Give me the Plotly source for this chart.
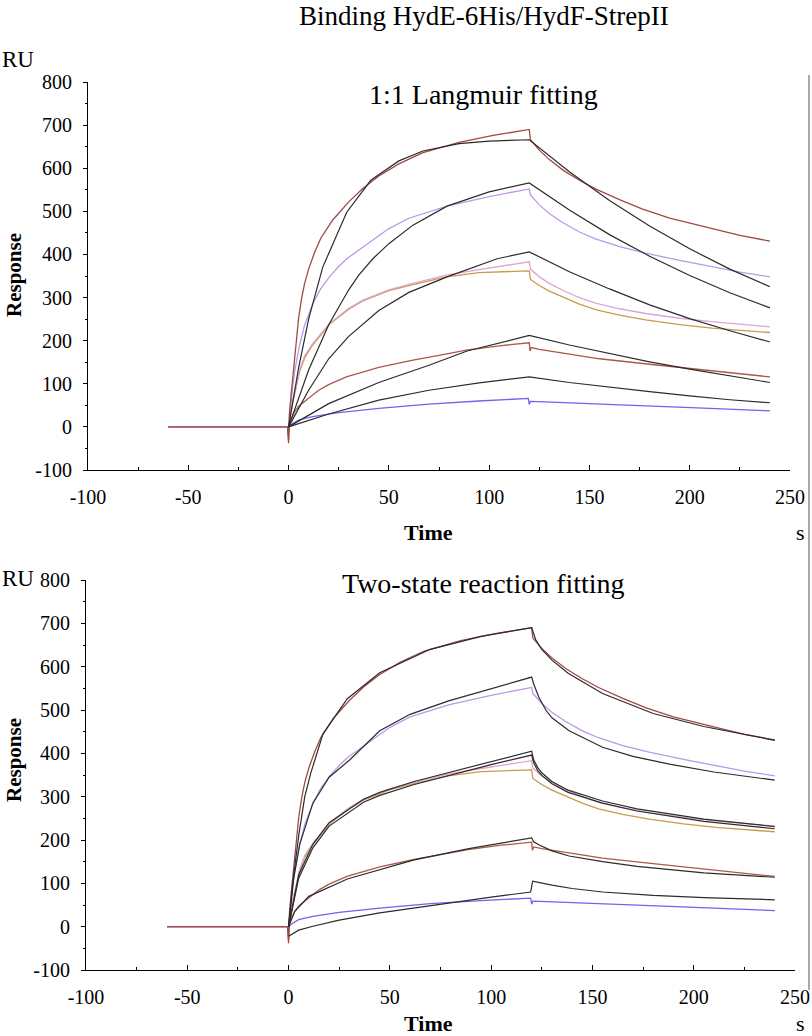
import plotly.graph_objects as go

m1_t = [-60, -0.5, 0, 0.4, 1.3, 2.5, 3.8, 5, 6.5, 8, 10, 13, 16, 22, 30, 37, 45, 55, 67, 85, 102, 120,
        120.6, 125, 130, 137, 145, 153, 165, 176.5, 190, 211, 225, 240]
m1_v = [0, 0, -38, 30, 77, 140, 200, 252, 298, 333, 366, 405, 437, 480, 522, 553, 582, 610, 636, 660, 676, 690,
        666, 642, 620, 595, 572, 552, 527, 505, 484, 459, 444, 431]

m2_t = [-60, 0, 1.5, 3, 5.5, 8, 12, 16, 20.4, 25, 29, 35, 40, 45, 50, 60, 79, 100, 120,
        120.6, 125, 130, 136.6, 145, 153, 165, 178, 195, 211, 225, 240]
m2_v = [0, 0, 70, 128, 190, 236, 285, 320, 348, 372, 390, 410, 428, 445, 460, 484, 512, 534, 552,
        538, 515, 495, 474, 452, 436, 418, 403, 386, 371, 359, 348]

m3_t = [-60, 0, 2, 5.5, 8, 12, 20.4, 30, 37, 50, 62, 78.6, 95, 110, 120,
        120.6, 125, 130, 136.6, 145, 153, 165, 178, 195, 211, 240]
m3_v = [0, 0, 60, 132, 165, 193, 240, 275, 294, 318, 333, 352, 365, 376, 383,
        366, 348, 333, 317, 300, 287, 274, 263, 252, 244, 232]

m4_t = [-60, 0, 2, 5.5, 8, 12, 20.4, 30, 37, 50, 62, 78.6, 95, 110, 120,
        120.6, 125, 130, 136.6, 145, 153, 165, 178, 195, 211, 240]
m4_v = [0, 0, 55, 128, 160, 190, 238, 273, 292, 316, 330, 348, 358, 361, 362,
        342, 328, 315, 302, 285, 272, 259, 248, 237, 229, 219]

m5_t = [-60, -0.5, 0, 0.4, 1, 3, 5, 8.8, 15, 20, 28.8, 45, 62, 75, 88.6, 105, 120,
        120.4, 121, 125, 138.2, 155, 176.5, 211, 240]
m5_v = [0, 0, -30, 5, 15, 35, 48, 62, 85, 98, 116, 138, 155, 166, 178, 188, 195,
        176, 184, 180, 170, 158, 147, 130, 116]

m6_t = [-60, 0, 2, 5, 12, 25, 45, 70, 95, 119.5,
        120, 120.6, 127.5, 150, 178, 210, 240]
m6_v = [0, 0, 8, 16, 24, 33, 43, 53, 60, 66,
        52, 59, 58, 54, 50, 43, 37]

# 1:1 Langmuir fits (top panel)
f1_t = [0, 5, 10, 17, 29, 41, 55, 67, 85, 100, 120, 140, 160, 180, 200, 220, 240]
f1_v = [0, 137, 250, 370, 498, 572, 617, 640, 657, 663, 666, 592, 525, 466, 413, 366, 325]
f2_t = [0, 10, 20, 30, 35, 42, 50, 62, 79, 100, 120, 140, 160, 180, 200, 220, 240]
f2_v = [0, 132, 237, 318, 352, 390, 425, 468, 512, 545, 566, 503, 446, 396, 351, 311, 276]
f3_t = [0, 10, 20, 30, 45, 60, 79, 95, 104, 120, 140, 160, 180, 200, 220, 240]
f3_v = [0, 85, 158, 210, 270, 312, 348, 376, 390, 406, 360, 320, 283, 251, 223, 197]
f4_t = [0, 10, 20, 45, 70, 89, 105, 120, 140, 160, 180, 200, 220, 240]
f4_v = [0, 28, 54, 103, 143, 176, 195, 212, 190, 170, 151, 134, 118, 103]
f5_t = [0, 20, 45, 70, 95, 120, 140, 160, 180, 200, 220, 240]
f5_v = [0, 30, 62, 85, 102, 116, 103, 92, 82, 72, 63, 56]

# two-state reaction fits (bottom panel)
g1_t = [0, 2, 5, 8, 11, 17, 29, 45, 70, 95, 120, 122, 125, 130, 138, 155, 180, 205, 240]
g1_v = [0, 100, 210, 300, 355, 445, 526, 586, 640, 670, 690, 662, 640, 615, 585, 538, 492, 462, 430]
g2_t = [0, 2.5, 5.5, 12, 20, 25, 30, 45, 60, 79, 100, 120, 121, 123.5, 127, 130, 138.5, 155, 170, 188, 210, 240]
g2_v = [0, 110, 190, 285, 345, 365, 384, 452, 490, 521, 550, 576, 560, 530, 500, 482, 452, 414, 393, 375, 357, 338]
g3_t = [0, 5, 12, 20, 37, 45, 62, 80, 100, 120, 121, 123, 125, 130, 138, 155, 172, 205, 240]
g3_v = [0, 120, 190, 240, 294, 310, 335, 357, 382, 405, 385, 367, 355, 335, 315, 290, 272, 248, 231]
g4_t = [0, 5, 12, 20, 37, 45, 62, 80, 100, 120, 121, 123, 125, 130, 138, 155, 172, 205, 240]
g4_v = [0, 112, 182, 232, 287, 303, 328, 350, 374, 396, 378, 360, 349, 330, 310, 285, 267, 243, 226]
g5_t = [0, 3, 10, 29, 62, 89, 120, 121, 123.5, 130, 138.5, 155, 172, 205, 240]
g5_v = [0, 35, 70, 110, 154, 180, 205, 196, 189, 175, 163, 150, 139, 124, 114]
g6_t = [0, 5, 12, 25, 45, 79, 100, 119.5, 120.5, 130, 140, 155, 180, 205, 240]
g6_v = [-22, -8, 1, 15, 32, 55, 68, 80, 105, 96, 88, 80, 72, 67, 62]

measured = [(m1_t, m1_v, "#9e4a44"), (m2_t, m2_v, "#bc98ea"), (m3_t, m3_v, "#dea4d2"),
            (m4_t, m4_v, "#c99a4c"), (m5_t, m5_v, "#a85a4c"), (m6_t, m6_v, "#7a5ef0")]
fits_top = [(f1_t, f1_v), (f2_t, f2_v), (f3_t, f3_v), (f4_t, f4_v), (f5_t, f5_v)]
fits_bot = [(g1_t, g1_v), (g2_t, g2_v), (g3_t, g3_v), (g4_t, g4_v), (g5_t, g5_v), (g6_t, g6_v)]

fig = go.Figure()
for xa, ya, fits in [("x", "y", fits_top), ("x2", "y2", fits_bot)]:
    # reversed so the dark brown run sits on top along the baseline
    for t, v, c in measured[::-1]:
        fig.add_trace(go.Scatter(x=t, y=v, mode="lines", line=dict(color=c, width=1.3),
                                 xaxis=xa, yaxis=ya, showlegend=False))
    for t, v in fits:
        fig.add_trace(go.Scatter(x=t, y=v, mode="lines", line=dict(color="#2b2b2b", width=1.2),
                                 xaxis=xa, yaxis=ya, showlegend=False))

serif = "Liberation Serif, Times New Roman, serif"
xticks = [-100, -50, 0, 50, 100, 150, 200, 250]
yticks = [-100, 0, 100, 200, 300, 400, 500, 600, 700, 800]
xcommon = dict(range=[-100, 250], tickvals=xticks, ticktext=[str(v) for v in xticks],
               showline=True, linecolor="black", linewidth=1, ticks="inside", ticklen=5,
               tickcolor="black", minor=dict(dtick=25, ticks="inside", ticklen=3, tickcolor="black"),
               showgrid=False, zeroline=False, automargin=False,
               tickfont=dict(family=serif, size=20, color="black"), ticklabelstandoff=9)
ycommon = dict(range=[-100, 800], tickvals=yticks, ticktext=[str(v) for v in yticks],
               showline=True, linecolor="black", linewidth=1, ticks="outside", ticklen=4,
               tickcolor="black", minor=dict(dtick=50, ticks="outside", ticklen=2, tickcolor="black"),
               showgrid=False, zeroline=False, automargin=False,
               tickfont=dict(family=serif, size=20, color="black"), ticklabelstandoff=7)

fig.update_layout(
    width=812, height=1036, margin=dict(l=0, r=0, t=0, b=0),
    plot_bgcolor="white", paper_bgcolor="white",
    xaxis=dict(domain=[88 / 812, 790 / 812], anchor="y", **xcommon),
    yaxis=dict(domain=[1 - 470 / 1036, 1 - 82 / 1036], anchor="x", **ycommon),
    xaxis2=dict(domain=[86 / 812, 795 / 812], anchor="y2", **xcommon),
    yaxis2=dict(domain=[1 - 970 / 1036, 1 - 580 / 1036], anchor="x2", **ycommon),
)

def label(text, x, y, size, bold=False, angle=0):
    if bold:
        text = "<b>" + text + "</b>"
    fig.add_annotation(text=text, x=x / 812, y=1 - y / 1036, xref="paper", yref="paper",
                       showarrow=False, textangle=angle, xanchor="center", yanchor="middle",
                       font=dict(family=serif, size=size, color="black"))

label("Binding HydE-6His/HydF-StrepII", 484, 16, 27)
label("1:1 Langmuir fitting", 483, 95, 28)
label("Two-state reaction fitting", 483, 583, 28)
label("RU", 18, 60, 23)
label("RU", 18, 578, 23)
label("Response", 14, 275, 21, bold=True, angle=-90)
label("Response", 14, 760, 21, bold=True, angle=-90)
label("Time", 428, 532, 22, bold=True)
label("Time", 428, 1023, 22, bold=True)
label("s", 800, 532, 22)
label("s", 800, 1023, 22)

# thin frame edge visible at the right of the scanned figure
fig.add_shape(type="line", xref="paper", yref="paper", x0=809 / 812, x1=809 / 812,
              y0=1 - 990 / 1036, y1=1 - 75 / 1036, line=dict(color="#555555", width=1))

# drop the default page margin so the figure sits at the window's top-left corner
fig.write_html("out.html", config={"displayModeBar": False},
               post_script="document.body.style.margin='0px';")
